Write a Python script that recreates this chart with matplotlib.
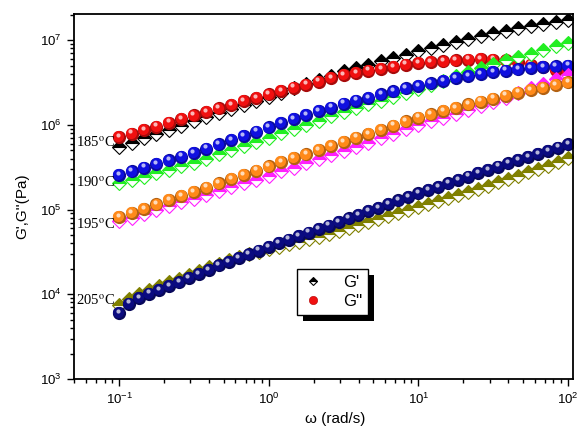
import matplotlib
matplotlib.use("Agg")
import matplotlib.pyplot as plt
import matplotlib.colors as mcolors
from matplotlib.lines import Line2D
from matplotlib.patches import Rectangle
from matplotlib.transforms import offset_copy

plt.rcParams['font.family'] = ['Liberation Sans', 'DejaVu Sans']
plt.rcParams['mathtext.fontset'] = 'custom'
plt.rcParams['mathtext.rm'] = 'Liberation Sans'

# frequency sweeps (rad/s)
freq_a = [0.1, 0.1212, 0.1468, 0.1778, 0.2154, 0.2610, 0.3162, 0.3831, 0.4642,
          0.5623, 0.6813, 0.8254, 1.0, 1.212, 1.468, 1.778, 2.154, 2.610, 3.162,
          3.831, 4.642, 5.623, 6.813, 8.254, 10.0, 12.12, 14.68, 17.78, 21.54,
          26.10, 31.62, 38.31, 46.42, 56.23, 68.13, 82.54, 100.0]
freq_b = [0.1, 0.1166, 0.1359, 0.1585, 0.1848, 0.2154, 0.2512, 0.2929, 0.3415,
          0.3981, 0.4642, 0.5412, 0.6310, 0.7356, 0.8577, 1.0, 1.166, 1.359,
          1.585, 1.848, 2.154, 2.512, 2.929, 3.415, 3.981, 4.642, 5.412, 6.310,
          7.356, 8.577, 10.0, 11.66, 13.59, 15.85, 18.48, 21.54, 25.12, 29.29,
          34.15, 39.81, 46.42, 54.12, 63.10, 73.56, 85.77, 100.0]

# 185 C
g1_185 = [5.50e5, 6.17e5, 6.92e5, 7.76e5, 8.71e5, 9.77e5, 1.10e6, 1.23e6, 1.38e6,
          1.55e6, 1.72e6, 1.91e6, 2.14e6, 2.40e6, 2.69e6, 3.02e6, 3.39e6, 3.80e6,
          4.27e6, 4.68e6, 5.13e6, 5.62e6, 6.17e6, 6.76e6, 7.41e6, 8.13e6, 8.81e6,
          9.55e6, 1.035e7, 1.12e7, 1.20e7, 1.29e7, 1.38e7, 1.46e7, 1.55e7, 1.64e7, 1.74e7]
g2_185 = [7.16e5, 7.89e5, 8.71e5, 9.55e5, 1.06e6, 1.175e6, 1.29e6, 1.42e6, 1.56e6,
          1.72e6, 1.90e6, 2.09e6, 2.29e6, 2.51e6, 2.75e6, 2.99e6, 3.24e6, 3.55e6,
          3.89e6, 4.12e6, 4.37e6, 4.57e6, 4.84e6, 5.13e6, 5.37e6, 5.50e6, 5.62e6,
          5.75e6, 5.89e6, 5.96e6, 5.89e6, 5.75e6, 5.50e6, 5.13e6, 4.79e6, 4.47e6, 4.17e6]
# 190 C
g1_190 = [2.04e5, 2.24e5, 2.45e5, 2.69e5, 2.95e5, 3.24e5, 3.55e5, 3.98e5, 4.47e5,
          5.01e5, 5.62e5, 6.31e5, 7.08e5, 7.94e5, 8.91e5, 1.00e6, 1.12e6, 1.26e6,
          1.41e6, 1.57e6, 1.74e6, 1.93e6, 2.14e6, 2.37e6, 2.63e6, 2.95e6, 3.31e6,
          3.72e6, 4.17e6, 4.68e6, 5.25e6, 5.75e6, 6.31e6, 6.92e6, 7.67e6, 8.51e6, 9.33e6]
g2_190 = [2.57e5, 2.82e5, 3.13e5, 3.47e5, 3.80e5, 4.22e5, 4.68e5, 5.25e5, 5.89e5,
          6.61e5, 7.41e5, 8.32e5, 9.33e5, 1.05e6, 1.175e6, 1.30e6, 1.45e6, 1.60e6,
          1.78e6, 1.93e6, 2.09e6, 2.29e6, 2.48e6, 2.69e6, 2.88e6, 3.09e6, 3.31e6,
          3.55e6, 3.76e6, 3.98e6, 4.17e6, 4.37e6, 4.52e6, 4.68e6, 4.79e6, 4.90e6, 5.01e6]
# 195 C
g1_195 = [7.24e4, 8.04e4, 8.91e4, 9.89e4, 1.10e5, 1.22e5, 1.35e5, 1.50e5, 1.66e5,
          1.84e5, 2.04e5, 2.26e5, 2.51e5, 2.82e5, 3.13e5, 3.51e5, 3.94e5, 4.37e5,
          4.90e5, 5.50e5, 6.17e5, 7.00e5, 7.85e5, 8.81e5, 9.89e5, 1.10e6, 1.22e6,
          1.35e6, 1.51e6, 1.68e6, 1.86e6, 2.09e6, 2.37e6, 2.69e6, 3.05e6, 3.47e6, 3.89e6]
g2_195 = [8.13e4, 9.12e4, 1.02e5, 1.15e5, 1.29e5, 1.45e5, 1.62e5, 1.82e5, 2.04e5,
          2.29e5, 2.57e5, 2.88e5, 3.24e5, 3.63e5, 4.03e5, 4.47e5, 5.01e5, 5.62e5,
          6.31e5, 7.08e5, 7.85e5, 8.71e5, 9.77e5, 1.10e6, 1.22e6, 1.33e6, 1.46e6,
          1.58e6, 1.74e6, 1.88e6, 2.04e6, 2.21e6, 2.40e6, 2.57e6, 2.75e6, 2.95e6, 3.16e6]
# 205 C
g1_205 = [7.41e3, 8.71e3, 1.00e4, 1.12e4, 1.24e4, 1.38e4, 1.53e4, 1.70e4, 1.88e4,
          2.09e4, 2.29e4, 2.51e4, 2.72e4, 2.95e4, 3.16e4, 3.39e4, 3.63e4, 3.89e4,
          4.17e4, 4.47e4, 4.79e4, 5.13e4, 5.56e4, 6.03e4, 6.53e4, 7.08e4, 7.67e4,
          8.32e4, 9.23e4, 1.00e5, 1.08e5, 1.175e5, 1.27e5, 1.38e5, 1.50e5, 1.62e5,
          1.76e5, 1.91e5, 2.09e5, 2.29e5, 2.51e5, 2.75e5, 3.02e5, 3.31e5, 3.67e5, 4.07e5]
g2_205 = [6.03e3, 7.76e3, 9.02e3, 1.02e4, 1.13e4, 1.25e4, 1.38e4, 1.55e4, 1.74e4,
          1.95e4, 2.19e4, 2.42e4, 2.68e4, 2.96e4, 3.28e4, 3.63e4, 4.00e4, 4.41e4,
          4.85e4, 5.35e4, 5.89e4, 6.46e4, 7.11e4, 7.85e4, 8.65e4, 9.55e4, 1.05e5,
          1.16e5, 1.28e5, 1.41e5, 1.55e5, 1.70e5, 1.86e5, 2.04e5, 2.24e5, 2.45e5,
          2.69e5, 2.95e5, 3.21e5, 3.51e5, 3.82e5, 4.17e5, 4.54e5, 4.95e5, 5.40e5, 5.89e5]

temps = ['185', '190', '195', '205']

fig = plt.figure(figsize=(5.79, 4.26), dpi=100)
ax = fig.add_axes([0.1278, 0.1103, 0.8618, 0.8567])
ax.set_xscale('log')
ax.set_yscale('log')

mid = offset_copy(ax.transData, fig=fig, x=-0.7, y=0.8, units='dots')
hl = offset_copy(ax.transData, fig=fig, x=-1.4, y=2.2, units='dots')


def shade(c, f):
    r, g, b = mcolors.to_rgb(c)
    if f > 0:
        return (r + (1 - r) * f, g + (1 - g) * f, b + (1 - b) * f)
    return (r * (1 + f), g * (1 + f), b * (1 + f))


def diamonds(x, y, c):
    ax.plot(x, y, ls='none', marker='D', ms=7, fillstyle='top', mfc=c,
            mfcalt='white', mec=c, mew=0.8)


def spheres(x, y, c):
    # a sphere look: dark rim, main body shifted up-left, small highlight
    ax.plot(x, y, ls='none', marker='o', ms=9.5, mfc=shade(c, -0.3), mec='none')
    ax.plot(x, y, ls='none', marker='o', ms=8, mfc=c, mec='none', transform=mid)
    ax.plot(x, y, ls='none', marker='o', ms=3.0, mfc=shade(c, 0.7), mec='none',
            transform=hl)


diamonds(freq_a, g1_185, 'black')
spheres(freq_a, g2_185, '#f01010')
diamonds(freq_a, g1_190, '#22ee22')
spheres(freq_a, g2_190, '#1010e0')
diamonds(freq_a, g1_195, '#ff20ff')
spheres(freq_a, g2_195, '#ff8a1a')
diamonds(freq_b, g1_205, '#808000')
spheres(freq_b, g2_205, '#0b0b80')

lab_y = [5.46e5, 1.84e5, 5.9e4, 7.4e3]
for t, yy in zip(temps, lab_y):
    ax.text(0.0518, yy, t + '$^{\\mathrm{o}}$C', family='Liberation Serif',
            math_fontfamily='stix', fontsize=10.5, va='baseline', ha='left')

ax.set_xlim(0.05, 108)
ax.set_ylim(1e3, 2.03e7)

ax.tick_params(which='both', direction='out', top=False, right=False,
               labelsize=9.5, width=1)
ax.tick_params(which='major', length=5, pad=4)
ax.tick_params(which='minor', length=3)
for s in ax.spines.values():
    s.set_linewidth(1.3)

ax.set_xlabel('ω (rad/s)', fontsize=11)
ax.set_ylabel("G',G''(Pa)", fontsize=11)
ax.xaxis.set_label_coords(0.523, -0.09)
ax.yaxis.set_label_coords(-0.09, 0.474)

h1 = Line2D([], [], ls='none', marker='D', ms=4.5, fillstyle='top', mfc='black',
            mfcalt='white', mec='black', mew=0.8)
h2 = Line2D([], [], ls='none', marker='o', ms=6, mfc='#f01010', mec='#b00000', mew=0.4)
leg = ax.legend([h1, h2], ["G'", "G''"], loc='lower left', bbox_to_anchor=(0.447, 0.175),
                borderaxespad=0, fancybox=False, framealpha=1, edgecolor='black',
                fontsize=12, labelspacing=0.25, handlelength=1.2, handletextpad=1.2,
                borderpad=0.35)
leg.get_frame().set_linewidth(1.0)

fig.canvas.draw()
bb = leg.get_window_extent().transformed(ax.transAxes.inverted())
dx = 6 / (ax.bbox.width)
dy = 6 / (ax.bbox.height)
ax.add_patch(Rectangle((bb.x0 + dx, bb.y0 - dy), bb.width, bb.height, transform=ax.transAxes,
                       facecolor='black', edgecolor='none', zorder=4.9, clip_on=False))

fig.savefig('out.png', dpi=100)
